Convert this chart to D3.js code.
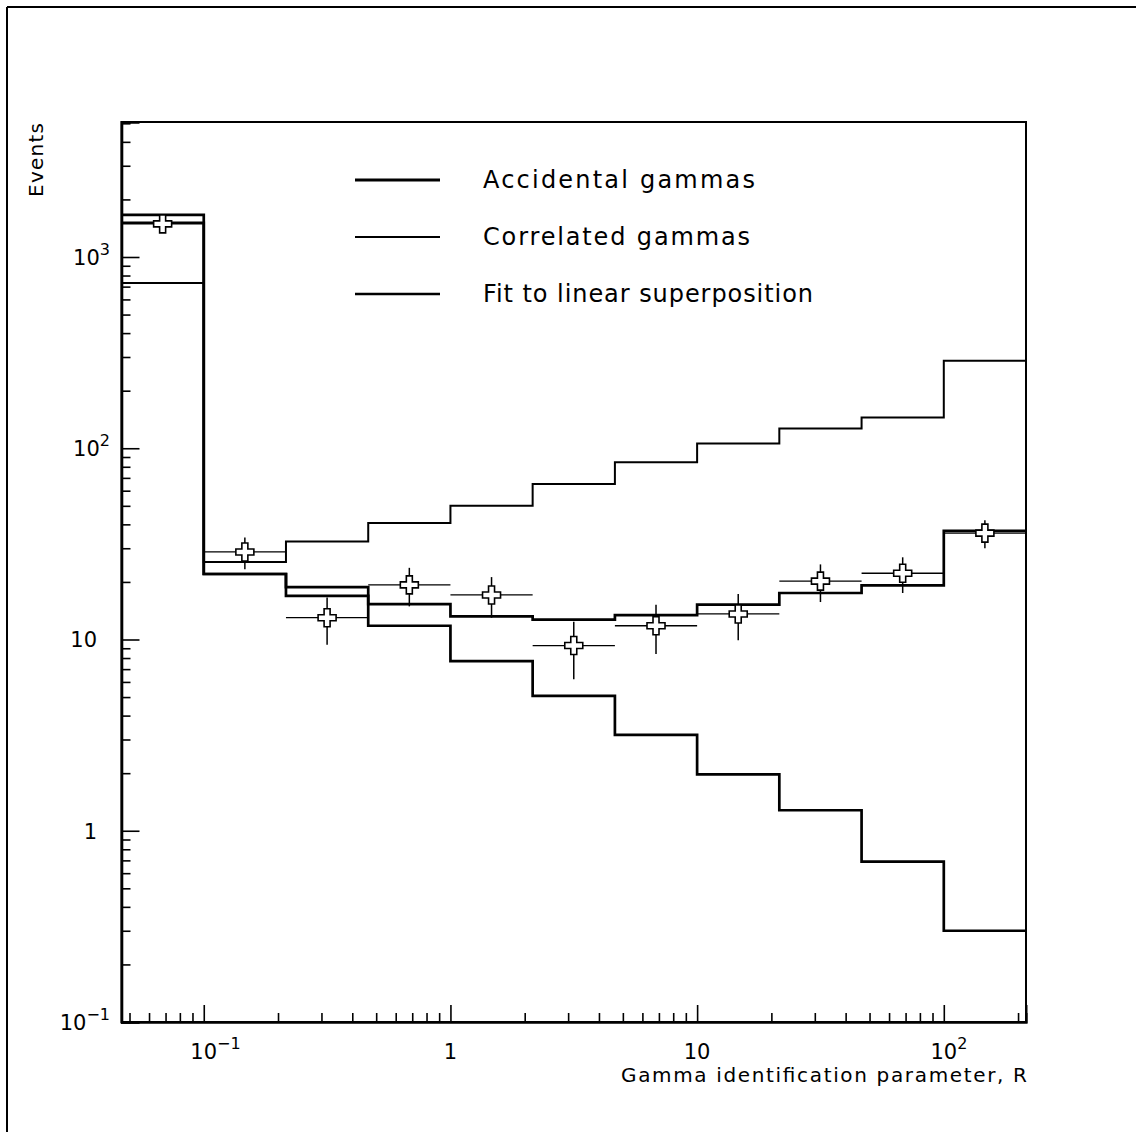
<!DOCTYPE html>
<html>
<head>
<meta charset="utf-8">
<script src="https://cdn.jsdelivr.net/npm/d3@7"></script>
<style>
  html, body { margin: 0; padding: 0; background: #fff; }
  svg { display: block; }
  text { font-family: "DejaVu Sans", sans-serif; fill: #000; }
</style>
</head>
<body>
<svg id="chart" width="1136" height="1132"></svg>
<script>
// ---- data ----
const binEdges = [0.0464, 0.1, 0.2154, 0.4642, 1, 2.154, 4.642, 10, 21.54, 46.42, 100, 215.4];
const accidental = [1660, 22.0, 16.9, 11.8, 7.7, 5.07, 3.17, 1.97, 1.28, 0.69, 0.30];
const correlated = [731, 25.4, 32.5, 40.6, 50, 65, 84.4, 106, 127, 145, 287];
const fitValues = [1510, 22.0, 18.8, 15.3, 13.2, 12.7, 13.4, 15.2, 17.5, 19.2, 37];
const dataCounts = [1490, 28.7, 13.0, 19.3, 17.1, 9.3, 11.8, 13.6, 20.2, 22.2, 36];
const dataErrors = [39, 5.4, 3.6, 4.4, 4.1, 3.1, 3.4, 3.7, 4.5, 4.7, 6.0];
const legendLabels = ["Accidental gammas", "Correlated gammas", "Fit to linear superposition"];
const yMajorTicks = [0.1, 1, 10, 100, 1000];
const xMajorTicks = [0.1, 1, 10, 100];
const xTitle = "Gamma identification parameter, R";
const yTitle = "Events";

// ---- layout ----
const svg = d3.select("#chart");
const X0 = 121.5, X1 = 1026, Y0 = 122, Y1 = 1022;
const x = d3.scaleLog().domain([binEdges[0], binEdges[binEdges.length - 1]]).range([X0, X1]);
const y = d3.scaleLog().domain([0.1, 5080]).range([Y1, Y0]);

// outer page frame (top + left)
svg.append("line").attr("x1", 7).attr("y1", 7).attr("x2", 1136).attr("y2", 7)
  .attr("stroke", "#000").attr("stroke-width", 2);
svg.append("line").attr("x1", 7).attr("y1", 7).attr("x2", 7).attr("y2", 1132)
  .attr("stroke", "#000").attr("stroke-width", 2);

// plot frame
svg.append("rect").attr("x", X0).attr("y", Y0).attr("width", X1 - X0).attr("height", Y1 - Y0)
  .attr("fill", "none").attr("stroke", "#000").attr("stroke-width", 2);

// ---- axes ticks (inward) ----
function isMajor(v) { const l = Math.log10(v); return Math.abs(l - Math.round(l)) < 1e-6; }
const yMinor = y.ticks().filter(v => !isMajor(v));
const xMinor = x.ticks().filter(v => !isMajor(v));

const gyMinor = svg.append("g").attr("transform", `translate(${X0},0)`)
  .call(d3.axisLeft(y).tickValues(yMinor).tickSize(-9).tickFormat(""));
const gyMajor = svg.append("g").attr("transform", `translate(${X0},0)`)
  .call(d3.axisLeft(y).tickValues(yMajorTicks).tickSize(-18).tickFormat(""));
const gxMinor = svg.append("g").attr("transform", `translate(0,${Y1})`)
  .call(d3.axisBottom(x).tickValues(xMinor).tickSize(-9).tickFormat(""));
const gxMajor = svg.append("g").attr("transform", `translate(0,${Y1})`)
  .call(d3.axisBottom(x).tickValues(xMajorTicks).tickSize(-17).tickFormat(""));
[gyMinor, gyMajor, gxMinor, gxMajor].forEach(g => {
  g.select(".domain").attr("stroke", "#000").attr("stroke-width", 2);
  g.selectAll(".tick line").attr("stroke", "#000").attr("stroke-width", 1.6);
});
gyMajor.select(".domain").attr("stroke-width", 2.6);

// tick labels
function expOf(v) { return Math.round(Math.log10(v)); }
function addLabel(sel, v) {
  const e = expOf(v);
  if (e === 0) { sel.text("1"); return false; }
  if (e === 1) { sel.text("10"); return false; }
  sel.append("tspan").text("10");
  sel.append("tspan").attr("font-size", 16).attr("dy", -10)
    .text(e < 0 ? "\u2212" + Math.abs(e) : String(e));
  return true;
}
yMajorTicks.forEach(v => {
  const e = expOf(v);
  const plain = (e === 0 || e === 1);
  const t = svg.append("text").attr("font-size", 21).attr("text-anchor", "end")
    .attr("x", plain ? 97 : 110).attr("y", y(v) + 8);
  addLabel(t, v);
});
xMajorTicks.forEach(v => {
  const e = expOf(v);
  const plain = (e === 0 || e === 1);
  const t = svg.append("text").attr("font-size", 21).attr("y", Y1 + 37);
  if (plain) { t.attr("text-anchor", "middle").attr("x", x(v)); addLabel(t, v); }
  else { t.attr("text-anchor", "start").attr("x", x(v) - 13.4); addLabel(t, v); }
});

// axis titles
svg.append("text").attr("font-size", 20).attr("text-anchor", "end")
  .attr("x", X1 + 1).attr("y", 1082)
  .attr("textLength", 406).attr("lengthAdjust", "spacing").text(xTitle);
svg.append("text").attr("font-size", 20).attr("text-anchor", "end")
  .attr("transform", `translate(43,${Y0 + 1}) rotate(-90)`)
  .attr("textLength", 74).attr("lengthAdjust", "spacing").text(yTitle);

// ---- histograms ----
const stepLine = d3.line().x(d => x(d[0])).y(d => y(d[1])).curve(d3.curveStepAfter);
function histPoints(vals) {
  return vals.map((v, i) => [binEdges[i], v]).concat([[binEdges[vals.length], vals[vals.length - 1]]]);
}
const series = [
  { vals: accidental, w: 2.7 },
  { vals: correlated, w: 2.0 },
  { vals: fitValues, w: 2.7 }
];
series.forEach(s => {
  svg.append("path").attr("d", stepLine(histPoints(s.vals)))
    .attr("fill", "none").attr("stroke", "#000").attr("stroke-width", s.w)
    .attr("stroke-linejoin", "miter");
});

// ---- data points ----
const pts = dataCounts.map((v, i) => ({
  lo: binEdges[i], hi: binEdges[i + 1],
  c: Math.sqrt(binEdges[i] * binEdges[i + 1]), v: v, e: dataErrors[i]
}));
const gData = svg.append("g");
gData.selectAll("line.h").data(pts).join("line").attr("class", "h")
  .attr("x1", d => x(d.lo)).attr("x2", d => x(d.hi))
  .attr("y1", d => y(d.v)).attr("y2", d => y(d.v))
  .attr("stroke", "#000").attr("stroke-width", 1.3);
gData.selectAll("line.v").data(pts).join("line").attr("class", "v")
  .attr("x1", d => x(d.c)).attr("x2", d => x(d.c))
  .attr("y1", d => y(d.v + d.e)).attr("y2", d => y(d.v - d.e))
  .attr("stroke", "#000").attr("stroke-width", 1.5);
gData.selectAll("path.m").data(pts).join("path").attr("class", "m")
  .attr("d", d3.symbol(d3.symbolCross, 180))
  .attr("transform", d => `translate(${x(d.c)},${y(d.v)})`)
  .attr("fill", "#fff").attr("stroke", "#000").attr("stroke-width", 1.6);

// ---- legend ----
const legendY = [180, 237, 294];
const legendW = [3.0, 2.0, 2.5];
const legendTL = [272, 267, 330];
legendLabels.forEach((lab, i) => {
  svg.append("line").attr("x1", 355).attr("x2", 440)
    .attr("y1", legendY[i]).attr("y2", legendY[i])
    .attr("stroke", "#000").attr("stroke-width", legendW[i]);
  svg.append("text").attr("x", 483).attr("y", legendY[i] + 8)
    .attr("font-size", 24).attr("textLength", legendTL[i]).attr("lengthAdjust", "spacing")
    .text(lab);
});
</script>
</body>
</html>
